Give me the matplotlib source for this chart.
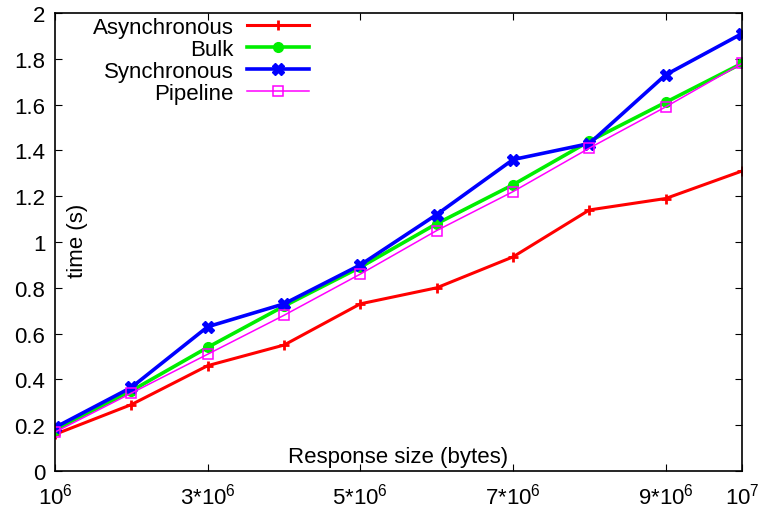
import numpy as np
import matplotlib.pyplot as plt

plt.rcParams['font.family'] = ['Liberation Sans', 'DejaVu Sans']
plt.rcParams['mathtext.fontset'] = 'custom'
plt.rcParams['mathtext.rm'] = 'Liberation Sans'
plt.rcParams['mathtext.it'] = 'Liberation Sans:italic'

# response size (x 10^6 bytes)
sizes = np.array([1, 2, 3, 4, 5, 6, 7, 8, 9, 10]) * 1e6

asynchronous = [0.16, 0.29, 0.46, 0.55, 0.73, 0.80, 0.935, 1.14, 1.19, 1.31]
bulk = [0.18, 0.35, 0.54, 0.72, 0.89, 1.08, 1.25, 1.44, 1.61, 1.78]
synchronous = [0.19, 0.365, 0.63, 0.73, 0.90, 1.12, 1.36, 1.43, 1.73, 1.91]
pipeline = [0.17, 0.34, 0.51, 0.68, 0.86, 1.05, 1.22, 1.41, 1.59, 1.78]

xticks = [1e6, 3e6, 5e6, 7e6, 9e6, 1e7]
xticklabels = [r'$\mathregular{10^6}$', r'$\mathregular{3{*}10^6}$', r'$\mathregular{5{*}10^6}$',
               r'$\mathregular{7{*}10^6}$', r'$\mathregular{9{*}10^6}$', r'$\mathregular{10^7}$']

fig = plt.figure(figsize=(7.61, 5.10), dpi=100)
ax = fig.add_axes((0.0723, 0.0745, 0.9027, 0.898))

ax.plot(sizes, asynchronous, color='#ff0000', lw=2.2, marker='+', ms=7, mew=2, label='Asynchronous')
ax.plot(sizes, bulk, color='#00ee00', lw=2.6, marker='o', ms=7, label='Bulk')
ax.plot(sizes, synchronous, color='#0000ff', lw=2.6, marker='X', ms=8, label='Synchronous')
ax.plot(sizes, pipeline, color='#ff00ff', lw=1.1, marker='s', ms=7, mfc='none', mew=1.1, label='Pipeline')

ax.set_xlim(1e6, 1e7)
ax.set_ylim(0, 2)
ax.set_xticks(xticks)
ax.set_xticklabels(xticklabels)
ax.set_yticks(np.arange(0, 2.01, 0.2))
ax.set_yticklabels(['0', '0.2', '0.4', '0.6', '0.8', '1', '1.2', '1.4', '1.6', '1.8', '2'])
ax.tick_params(direction='in', top=True, right=True, labelsize=16, length=5, pad=7)
ax.tick_params(axis='x', pad=8)
for s in ax.spines.values():
    s.set_linewidth(1.2)

# gnuplot style labels inside the plot
ax.text(0.033, 0.505, 'time (s)', transform=ax.transAxes, rotation=90,
        ha='center', va='center', fontsize=16)
ax.text(0.5, 0.008, 'Response size (bytes)', transform=ax.transAxes,
        ha='center', va='bottom', fontsize=16)

leg = ax.legend(loc='upper left', bbox_to_anchor=(0.026, 1.036), frameon=False,
                markerfirst=False, fontsize=16, handlelength=2.8,
                labelspacing=0.05, handletextpad=0.6)
for t in leg.get_texts():
    t.set_ha('right')
leg._legend_box.align = 'right'

fig.savefig('out.png', dpi=100)
